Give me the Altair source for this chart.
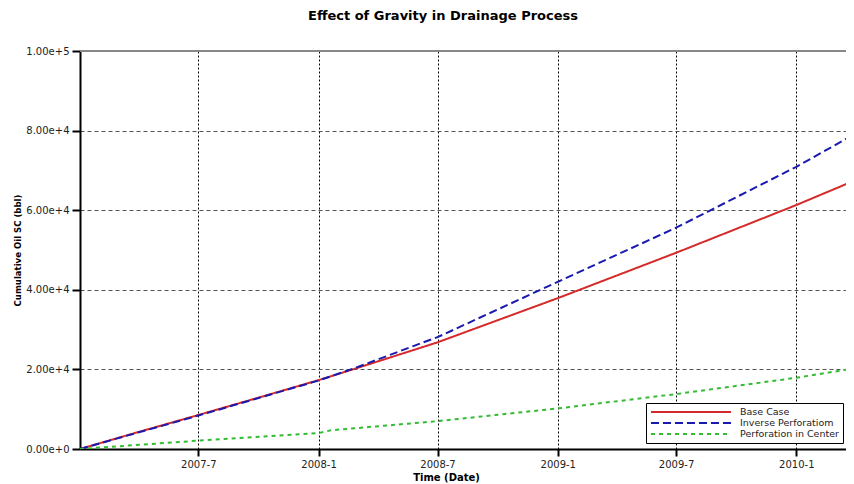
import altair as alt
import pandas as pd

# ---- data ----
series_names = ["Base Case", "Inverse Perforatiom", "Perforation in Center"]
series_colors = ["#d42a2a", "#1a1ab0", "#33bb33"]

main_dates = ["2007-01-01", "2007-04-01", "2007-07-01", "2007-10-01", "2008-01-01",
              "2008-03-01", "2008-05-24", "2008-07-01", "2009-01-01", "2009-07-01",
              "2010-01-01", "2010-03-29"]
base_case = [0, 4300, 8540, 12900, 17300, 20400, 24800, 26800, 37900, 49300, 61300, 67300]
inverse_perf = [0, 4200, 8400, 12800, 17200, 20600, 25800, 28100, 42000, 55600, 70900, 78900]

center_dates = ["2007-01-01", "2007-07-01", "2008-01-01", "2008-01-20", "2008-07-01",
                "2009-01-01", "2009-07-01", "2010-01-01", "2010-03-29"]
center_perf = [0, 2100, 4000, 4700, 7000, 10200, 13800, 17900, 20200]

y_ticks = [0, 20000, 40000, 60000, 80000, 100000]
x_tick_dates = [(2007, 7), (2008, 1), (2008, 7), (2009, 1), (2009, 7), (2010, 1)]

rows = []
for d, v in zip(main_dates, base_case):
    rows.append({"date": d, "value": v, "series": series_names[0]})
for d, v in zip(main_dates, inverse_perf):
    rows.append({"date": d, "value": v, "series": series_names[1]})
for d, v in zip(center_dates, center_perf):
    rows.append({"date": d, "value": v, "series": series_names[2]})
df = pd.DataFrame(rows)

x_values = [alt.DateTime(year=y, month=m, date=1, utc=True) for y, m in x_tick_dates]
x_domain = [alt.DateTime(year=2007, month=1, date=1, utc=True),
            alt.DateTime(year=2010, month=3, date=18, utc=True)]

legend = alt.Legend(title=None)

lines = alt.Chart(df).mark_line(strokeWidth=2, clip=True).encode(
    x=alt.X("date:T",
            scale=alt.Scale(type="utc", domain=x_domain),
            axis=alt.Axis(values=x_values,
                          labelExpr="utcFormat(datum.value, '%Y-%-m')",
                          title="Time (Date)", grid=True,
                          gridColor="#000000", gridDash=[2, 2], gridWidth=1,
                          domainColor="#000000", domainWidth=2,
                          tickColor="#000000", tickWidth=2, tickSize=7,
                          labelFont="DejaVu Sans", labelFontSize=10, labelColor="#222222",
                          labelPadding=3, labelFlush=False,
                          titleFont="DejaVu Sans", titleFontSize=10, titleFontWeight="bold",
                          titleColor="#000000", titleX=366, titleY=28,
                          titleBaseline="middle", titleAlign="center")),
    y=alt.Y("value:Q",
            scale=alt.Scale(domain=[0, 100000], nice=False, zero=True),
            axis=alt.Axis(values=y_ticks, format=".2e",
                          title="Cumulative Oil SC (bbl)", grid=True,
                          gridColor="#555555", gridDash=[4, 3], gridWidth=1,
                          domainColor="#000000", domainWidth=2,
                          tickColor="#000000", tickWidth=2, tickSize=8,
                          labelFont="DejaVu Sans", labelFontSize=10, labelColor="#222222",
                          labelPadding=3,
                          titleFont="Liberation Sans Narrow, DejaVu Sans Condensed, Liberation Sans",
                          titleFontSize=9.5,
                          titleFontWeight="bold", titleColor="#000000",
                          titleX=-63, titleY=199, titleAngle=270,
                          titleBaseline="middle", titleAlign="center")),
    color=alt.Color("series:N", scale=alt.Scale(domain=series_names, range=series_colors),
                    legend=legend),
    strokeDash=alt.StrokeDash("series:N",
                              scale=alt.Scale(domain=series_names,
                                              range=[[1, 0], [8, 4], [4, 4]]),
                              legend=legend),
)

top_rule = alt.Chart().mark_rule(color="#888888", strokeWidth=2).encode(
    y=alt.datum(100000)
)

chart = alt.layer(top_rule, lines).properties(
    width=766,
    height=398,
    autosize=alt.AutoSizeParams(type="none"),
    padding={"left": 72, "top": 43, "right": 0, "bottom": 35},
    title=alt.Title("Effect of Gravity in Drainage Process",
                    font="DejaVu Sans", fontSize=13, fontWeight="bold",
                    color="#000000", anchor="middle", dx=-20, offset=17,
                    baseline="middle"),
).configure_view(stroke=None).configure_legend(
    orient="none", legendX=566, legendY=352,
    strokeColor="#000000", fillColor="#ffffff", padding=4, cornerRadius=0,
    symbolType="M-1,0L19,0", symbolSize=64, symbolStrokeWidth=2,
    labelOffset=80, labelFont="DejaVu Sans", labelFontSize=9.5, labelColor="#222222",
    rowPadding=1,
)

chart.save("out.html", embed_options={"renderer": "svg", "actions": False})
